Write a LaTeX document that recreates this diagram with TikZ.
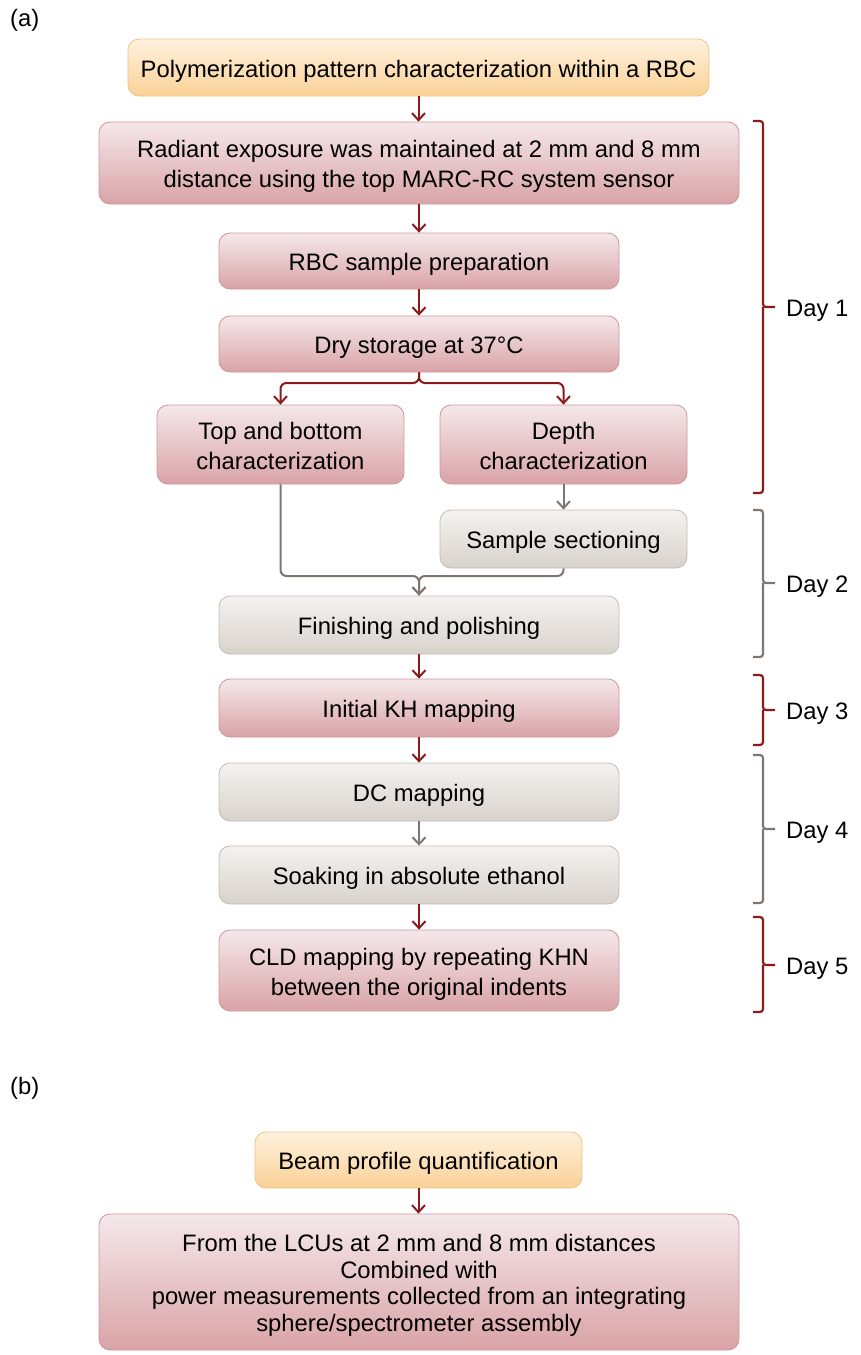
\documentclass[tikz,border=0pt]{standalone}
\usepackage{fontspec}
\setmainfont{Liberation Sans}
\usetikzlibrary{arrows.meta}
\definecolor{rline}{HTML}{8C1A1A}
\definecolor{gline}{HTML}{7F776F}
\definecolor{pinkT}{HTML}{F5E8EA}
\definecolor{pinkB}{HTML}{D9A3A7}
\definecolor{pinkD}{HTML}{CF959A}
\definecolor{orT}{HTML}{FEF1DE}
\definecolor{orB}{HTML}{FAD196}
\definecolor{orD}{HTML}{EDC580}
\definecolor{grT}{HTML}{F4F2F0}
\definecolor{grB}{HTML}{D8D2CC}
\definecolor{grD}{HTML}{C4BCB4}
\newcommand{\mytopstrut}{\rule{0pt}{24pt}}
\newcommand{\mybotstrut}{\rule[-5pt]{0pt}{5pt}}
\tikzset{
  box/.style={rounded corners=11pt, line width=0.8pt, inner sep=0pt, align=center,
    font=\fontsize{23.8}{30}\selectfont},
  pinkbox/.style={box, draw=pinkD, top color=pinkT, bottom color=pinkB},
  orbox/.style={box, draw=orD, top color=orT, bottom color=orB},
  graybox/.style={box, draw=grD, top color=grT, bottom color=grB},
  rarr/.style={draw=rline, line width=2pt, -{Straight Barb[length=7pt,width=13pt,line width=2pt]}},
  garr/.style={draw=gline, line width=2pt, -{Straight Barb[length=7pt,width=13pt,line width=2pt]}},
  rbrk/.style={draw=rline, line width=2.2pt, rounded corners=3pt},
  gbrk/.style={draw=gline, line width=2.2pt, rounded corners=3pt},
  daylbl/.style={anchor=west, inner sep=0pt, font=\fontsize{23.8}{28}\selectfont},
  panel/.style={anchor=west, inner sep=0pt, font=\fontsize{23.8}{28}\selectfont}
}
\begin{document}
\begin{tikzpicture}[x=1pt,y=-1pt]
\useasboundingbox (0,0) rectangle (861,1355);
\node[panel] (pa) at (10,20) {(a)};
\node[panel] (pb) at (10,1088) {(b)};

\node[orbox, minimum width=581pt, minimum height=57pt] (A) at (418.5,67.5) {\mytopstrut Polymerization pattern characterization within a RBC\mybotstrut};
\node[pinkbox, minimum width=640pt, minimum height=82pt] (B) at (419,163) {\mytopstrut Radiant exposure was maintained at 2 mm and 8 mm\\distance using the top MARC-RC system sensor\mybotstrut};
\node[pinkbox, minimum width=400pt, minimum height=56pt] (C) at (419,261) {\mytopstrut RBC sample preparation\mybotstrut};
\node[pinkbox, minimum width=400pt, minimum height=56pt] (D) at (419,344) {\mytopstrut Dry storage at 37°C\mybotstrut};
\node[pinkbox, minimum width=247pt, minimum height=79pt] (E) at (280.5,444.5) {\mytopstrut Top and bottom\\characterization\mybotstrut};
\node[pinkbox, minimum width=247pt, minimum height=79pt] (F) at (563.5,444.5) {\mytopstrut Depth\\characterization\mybotstrut};
\node[graybox, minimum width=247pt, minimum height=58pt] (G) at (563.5,539) {\mytopstrut Sample sectioning\mybotstrut};
\node[graybox, minimum width=400pt, minimum height=58pt] (H) at (419,625) {\mytopstrut Finishing and polishing\mybotstrut};
\node[pinkbox, minimum width=400pt, minimum height=58pt] (I) at (419,708) {\mytopstrut Initial KH mapping\mybotstrut};
\node[graybox, minimum width=400pt, minimum height=58pt] (J) at (419,792) {\mytopstrut DC mapping\mybotstrut};
\node[graybox, minimum width=400pt, minimum height=58pt] (K) at (419,875) {\mytopstrut Soaking in absolute ethanol\mybotstrut};
\node[pinkbox, minimum width=400pt, minimum height=81pt] (L) at (419,970.5) {\mytopstrut CLD mapping by repeating KHN\\between the original indents\mybotstrut};

\node[orbox, minimum width=327pt, minimum height=56pt] (M) at (418.5,1160) {\mytopstrut Beam profile quantification\mybotstrut};
\node[pinkbox, minimum width=640pt, minimum height=136pt, font=\fontsize{23.8}{26.5}\selectfont] (N) at (419,1282) {\mytopstrut From the LCUs at 2 mm and 8 mm distances\\Combined with\\power measurements collected from an integrating\\sphere/spectrometer assembly\mybotstrut};

% connectors
\draw[rarr] (A.south) -- (A.south |- B.north);
\draw[rarr] (B.south -| C.north) -- (C.north);
\draw[rarr] (C) -- (D);
\coordinate (split) at (419,383);
\draw[rarr, rounded corners=6pt] (D.south) -- (split) -| (E.north);
\draw[rarr, rounded corners=6pt] (D.south) -- (split) -| (F.north);
\draw[garr] (F) -- (G);
\coordinate (merge) at (419,576);
\draw[garr, rounded corners=6pt] (E.south) |- (merge) -- (H.north);
\draw[garr, rounded corners=6pt] (G.south) |- (merge) -- (H.north);
\draw[rarr] (H) -- (I);
\draw[rarr] (I) -- (J);
\draw[garr] (J) -- (K);
\draw[rarr] (K) -- (L);
\draw[rarr] (M.south) -- (M.south |- N.north);

% day brackets
\coordinate (b1t) at (753,121); \coordinate (b1m) at (763,307); \coordinate (b1b) at (753,493);
\draw[rbrk] (b1t) -| (b1m) -- ++(12,0) (b1m) |- (b1b);
\node[daylbl] (d1) at (786,307) {\mytopstrut Day 1\mybotstrut};
\coordinate (b2t) at (753,510); \coordinate (b2m) at (763,583); \coordinate (b2b) at (753,657);
\draw[gbrk] (b2t) -| (b2m) -- ++(12,0) (b2m) |- (b2b);
\node[daylbl] (d2) at (786,583) {\mytopstrut Day 2\mybotstrut};
\coordinate (b3t) at (753,675); \coordinate (b3m) at (763,710); \coordinate (b3b) at (753,745);
\draw[rbrk] (b3t) -| (b3m) -- ++(12,0) (b3m) |- (b3b);
\node[daylbl] (d3) at (786,710) {\mytopstrut Day 3\mybotstrut};
\coordinate (b4t) at (753,755); \coordinate (b4m) at (763,829); \coordinate (b4b) at (753,903);
\draw[gbrk] (b4t) -| (b4m) -- ++(12,0) (b4m) |- (b4b);
\node[daylbl] (d4) at (786,829) {\mytopstrut Day 4\mybotstrut};
\coordinate (b5t) at (753,917); \coordinate (b5m) at (763,965); \coordinate (b5b) at (753,1012);
\draw[rbrk] (b5t) -| (b5m) -- ++(12,0) (b5m) |- (b5b);
\node[daylbl] (d5) at (786,965) {\mytopstrut Day 5\mybotstrut};
\end{tikzpicture}
\end{document}
